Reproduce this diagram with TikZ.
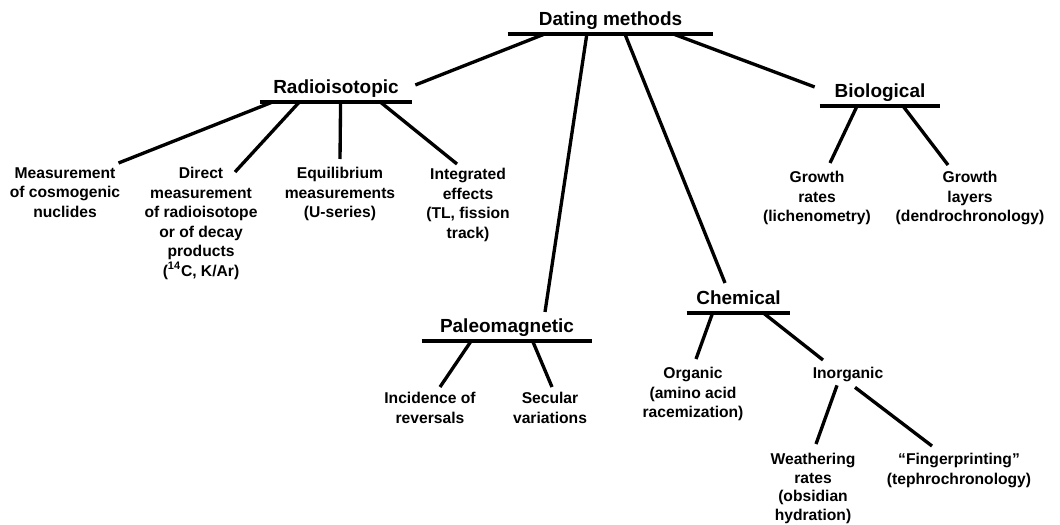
\documentclass[tikz,border=0pt]{standalone}
\usepackage{fontspec}
\setmainfont{Liberation Sans}
\usetikzlibrary{calc}

\begin{document}
\begin{tikzpicture}[
    heading/.style={font=\fontsize{10.8}{13}\selectfont\bfseries, anchor=south, inner xsep=0pt, inner ysep=1.8pt, text depth=3pt},
    method/.style={font=\fontsize{8.9}{11.1}\selectfont\bfseries, align=center, anchor=north, inner sep=0pt},
    bar/.style={line width=2.1pt},
    branch/.style={line width=1.9pt}
]
    \useasboundingbox (0,0) rectangle (21.2,-10.48);

    % group headings, each sitting on its bar
    \node[heading, minimum width=4.1cm] (dating) at (12.21,-0.68) {Dating methods};
    \node[heading, minimum width=3.04cm] (radio) at (6.72,-2.04) {Radioisotopic};
    \node[heading, minimum width=2.4cm] (bio) at (17.6,-2.12) {Biological};
    \node[heading, minimum width=3.4cm] (paleo) at (10.14,-6.82) {Paleomagnetic};
    \node[heading, minimum width=2.06cm] (chem) at (14.77,-6.26) {Chemical};

    \draw[bar] (dating.south west) -- (dating.south east);
    \draw[bar] (radio.south west) -- (radio.south east);
    \draw[bar] (bio.south west) -- (bio.south east);
    \draw[bar] (paleo.south west) -- (paleo.south east);
    \draw[bar] (chem.south west) -- (chem.south east);

    % methods
    \node[method] (cosmo) at (1.3,-3.34) {Measurement\\of cosmogenic\\nuclides};
    \node[method] (direct) at (4.02,-3.34) {Direct\\measurement\\of radioisotope\\or of decay\\products\\(\textsuperscript{14}C, K/Ar)};
    \node[method] (equil) at (6.8,-3.34) {Equilibrium\\measurements\\(U-series)};
    \node[method] (integ) at (9.36,-3.36) {Integrated\\effects\\(TL, fission\\track)};
    \node[method] (grate) at (16.34,-3.42) {Growth\\rates\\(lichenometry)};
    \node[method] (glayer) at (19.4,-3.42) {Growth\\layers\\(dendrochronology)};
    \node[method] (incid) at (8.6,-7.84) {Incidence of\\reversals};
    \node[method] (secul) at (11.0,-7.84) {Secular\\variations};
    \node[method] (organic) at (13.86,-7.34) {Organic\\(amino acid\\racemization)};
    \node[method] (inorg) at (16.96,-7.34) {Inorganic};
    \node[method, font=\fontsize{8.9}{10.6}\selectfont\bfseries] (weath) at (16.26,-9.06) {Weathering\\rates\\(obsidian\\hydration)};
    \node[method] (finger) at (19.18,-9.06) {“Fingerprinting”\\(tephrochronology)};

    % top level branches
    \draw[branch] ([shift={(0.06,0.08)}]radio.east) -- ($(dating.south west)!.18!(dating.south east)$);
    \draw[branch] ($(dating.south west)!.385!(dating.south east)$) -- ([xshift=0.76cm,yshift=0.06cm]paleo.north);
    \draw[branch] ($(dating.south west)!.57!(dating.south east)$) -- ([xshift=-0.27cm,yshift=0.08cm]chem.north);
    \draw[branch] ($(dating.south west)!.805!(dating.south east)$) -- ([shift={(-0.1,0.12)}]bio.west);

    % radioisotopic
    \draw[branch] ($(radio.south west)!.085!(radio.south east)$) -- ([shift={(-0.04,0.08)}]cosmo.north east);
    \draw[branch] ($(radio.south west)!.26!(radio.south east)$) -- ([shift={(0.68,-0.1)}]direct.north);
    \draw[branch] ($(radio.south west)!.53!(radio.south east)$) -- ([yshift=0.16cm]equil.north);
    \draw[branch] ($(radio.south west)!.79!(radio.south east)$) -- ([shift={(-0.22,0.08)}]integ.north);

    % biological
    \draw[branch] ($(bio.south west)!.31!(bio.south east)$) -- ([shift={(0.26,0.16)}]grate.north);
    \draw[branch] ($(bio.south west)!.69!(bio.south east)$) -- ([shift={(-0.44,0.12)}]glayer.north);

    % paleomagnetic
    \draw[branch] ($(paleo.south west)!.29!(paleo.south east)$) -- ([shift={(0.2,0.1)}]incid.north);
    \draw[branch] ($(paleo.south west)!.65!(paleo.south east)$) -- ([shift={(0.04,0.1)}]secul.north);

    % chemical
    \draw[branch] ($(chem.south west)!.25!(chem.south east)$) -- ([shift={(0.06,0.16)}]organic.north);
    \draw[branch] ($(chem.south west)!.74!(chem.south east)$) -- ([shift={(-0.5,0.14)}]inorg.north);
    \draw[branch] ([shift={(-0.22,-0.06)}]inorg.south) -- ([shift={(0.06,0.18)}]weath.north);
    \draw[branch] ([shift={(0.14,-0.1)}]inorg.south) -- ([shift={(-0.54,0.14)}]finger.north);
\end{tikzpicture}
\end{document}
